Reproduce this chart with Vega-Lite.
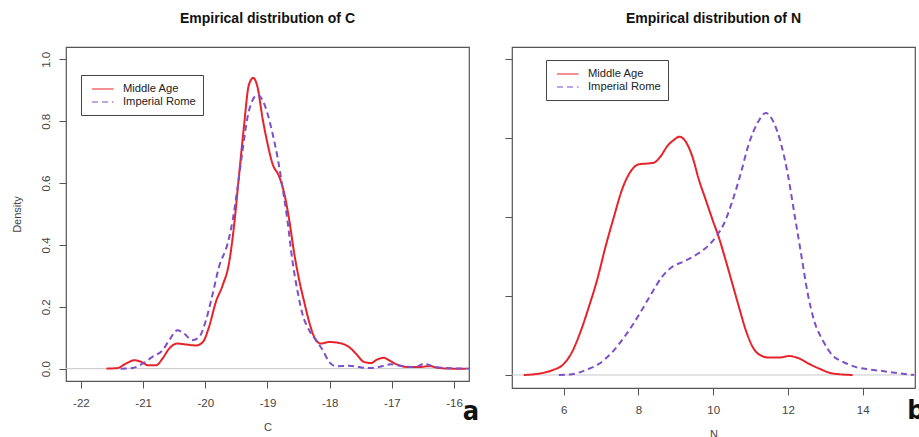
{
  "$schema": "https://vega.github.io/schema/vega-lite/v6.json",
  "autosize": {"type": "pad"},
  "padding": {"left": 10, "top": 11, "right": 0, "bottom": 0},
  "background": "white",
  "bounds": "flush",
  "spacing": 43,
  "config": {
    "font": "Liberation Sans",
    "view": {"stroke": "#555", "strokeWidth": 1.2},
    "axis": {"domain": false, "grid": false, "tickColor": "#555", "tickSize": 7, "tickWidth": 1, "labelColor": "#444", "labelFontSize": 11.5, "labelFont": "Liberation Sans", "titleColor": "#444", "titleFontSize": 11, "titleFontWeight": "normal", "titleFont": "Liberation Sans", "labelFlush": false, "labelOverlap": false},
    "title": {"fontSize": 14, "fontWeight": "bold", "color": "#111", "offset": 21, "anchor": "middle", "baseline": "alphabetic", "font": "Liberation Sans"},
    "legend": {"strokeColor": "#444", "fillColor": "white", "padding": 7, "labelFontSize": 11.2, "labelColor": "#222", "labelFont": "Liberation Sans", "symbolType": "M-0.5,0H3.1", "symbolSize": 144, "symbolStrokeWidth": 1.2, "labelOffset": 21, "rowPadding": 0}
  },
  "datasets": {
    "c": [
      {"x": -21.59, "y": 0, "s": "Middle Age"},
      {"x": -21.41, "y": 0.002, "s": "Middle Age"},
      {"x": -21.28, "y": 0.016, "s": "Middle Age"},
      {"x": -21.14, "y": 0.027, "s": "Middle Age"},
      {"x": -21.03, "y": 0.022, "s": "Middle Age"},
      {"x": -20.92, "y": 0.011, "s": "Middle Age"},
      {"x": -20.79, "y": 0.011, "s": "Middle Age"},
      {"x": -20.69, "y": 0.032, "s": "Middle Age"},
      {"x": -20.58, "y": 0.065, "s": "Middle Age"},
      {"x": -20.45, "y": 0.081, "s": "Middle Age"},
      {"x": -20.31, "y": 0.078, "s": "Middle Age"},
      {"x": -20.15, "y": 0.075, "s": "Middle Age"},
      {"x": -20.04, "y": 0.086, "s": "Middle Age"},
      {"x": -19.94, "y": 0.135, "s": "Middle Age"},
      {"x": -19.83, "y": 0.216, "s": "Middle Age"},
      {"x": -19.72, "y": 0.27, "s": "Middle Age"},
      {"x": -19.62, "y": 0.34, "s": "Middle Age"},
      {"x": -19.54, "y": 0.458, "s": "Middle Age"},
      {"x": -19.46, "y": 0.62, "s": "Middle Age"},
      {"x": -19.38, "y": 0.78, "s": "Middle Age"},
      {"x": -19.30, "y": 0.917, "s": "Middle Age"},
      {"x": -19.23, "y": 0.94, "s": "Middle Age"},
      {"x": -19.16, "y": 0.91, "s": "Middle Age"},
      {"x": -19.08, "y": 0.81, "s": "Middle Age"},
      {"x": -19.00, "y": 0.728, "s": "Middle Age"},
      {"x": -18.92, "y": 0.663, "s": "Middle Age"},
      {"x": -18.81, "y": 0.62, "s": "Middle Age"},
      {"x": -18.73, "y": 0.566, "s": "Middle Age"},
      {"x": -18.65, "y": 0.48, "s": "Middle Age"},
      {"x": -18.57, "y": 0.372, "s": "Middle Age"},
      {"x": -18.49, "y": 0.286, "s": "Middle Age"},
      {"x": -18.41, "y": 0.216, "s": "Middle Age"},
      {"x": -18.33, "y": 0.151, "s": "Middle Age"},
      {"x": -18.22, "y": 0.092, "s": "Middle Age"},
      {"x": -18.14, "y": 0.081, "s": "Middle Age"},
      {"x": -18.01, "y": 0.086, "s": "Middle Age"},
      {"x": -17.85, "y": 0.083, "s": "Middle Age"},
      {"x": -17.69, "y": 0.07, "s": "Middle Age"},
      {"x": -17.58, "y": 0.049, "s": "Middle Age"},
      {"x": -17.45, "y": 0.022, "s": "Middle Age"},
      {"x": -17.34, "y": 0.018, "s": "Middle Age"},
      {"x": -17.23, "y": 0.03, "s": "Middle Age"},
      {"x": -17.13, "y": 0.035, "s": "Middle Age"},
      {"x": -17.02, "y": 0.024, "s": "Middle Age"},
      {"x": -16.89, "y": 0.011, "s": "Middle Age"},
      {"x": -16.72, "y": 0.005, "s": "Middle Age"},
      {"x": -16.56, "y": 0.005, "s": "Middle Age"},
      {"x": -16.40, "y": 0.008, "s": "Middle Age"},
      {"x": -16.24, "y": 0.002, "s": "Middle Age"},
      {"x": -16.02, "y": 0, "s": "Middle Age"},
      {"x": -15.81, "y": 0, "s": "Middle Age"},
      {"x": -21.36, "y": 0, "s": "Imperial Rome"},
      {"x": -21.17, "y": 0.002, "s": "Imperial Rome"},
      {"x": -21.01, "y": 0.016, "s": "Imperial Rome"},
      {"x": -20.85, "y": 0.038, "s": "Imperial Rome"},
      {"x": -20.69, "y": 0.059, "s": "Imperial Rome"},
      {"x": -20.58, "y": 0.092, "s": "Imperial Rome"},
      {"x": -20.45, "y": 0.124, "s": "Imperial Rome"},
      {"x": -20.34, "y": 0.113, "s": "Imperial Rome"},
      {"x": -20.21, "y": 0.092, "s": "Imperial Rome"},
      {"x": -20.10, "y": 0.102, "s": "Imperial Rome"},
      {"x": -19.99, "y": 0.156, "s": "Imperial Rome"},
      {"x": -19.88, "y": 0.243, "s": "Imperial Rome"},
      {"x": -19.78, "y": 0.329, "s": "Imperial Rome"},
      {"x": -19.64, "y": 0.405, "s": "Imperial Rome"},
      {"x": -19.56, "y": 0.48, "s": "Imperial Rome"},
      {"x": -19.48, "y": 0.588, "s": "Imperial Rome"},
      {"x": -19.40, "y": 0.707, "s": "Imperial Rome"},
      {"x": -19.32, "y": 0.814, "s": "Imperial Rome"},
      {"x": -19.24, "y": 0.868, "s": "Imperial Rome"},
      {"x": -19.16, "y": 0.885, "s": "Imperial Rome"},
      {"x": -19.08, "y": 0.868, "s": "Imperial Rome"},
      {"x": -19.00, "y": 0.825, "s": "Imperial Rome"},
      {"x": -18.92, "y": 0.761, "s": "Imperial Rome"},
      {"x": -18.83, "y": 0.674, "s": "Imperial Rome"},
      {"x": -18.76, "y": 0.588, "s": "Imperial Rome"},
      {"x": -18.68, "y": 0.48, "s": "Imperial Rome"},
      {"x": -18.60, "y": 0.35, "s": "Imperial Rome"},
      {"x": -18.51, "y": 0.243, "s": "Imperial Rome"},
      {"x": -18.44, "y": 0.178, "s": "Imperial Rome"},
      {"x": -18.33, "y": 0.124, "s": "Imperial Rome"},
      {"x": -18.22, "y": 0.092, "s": "Imperial Rome"},
      {"x": -18.11, "y": 0.059, "s": "Imperial Rome"},
      {"x": -18.01, "y": 0.022, "s": "Imperial Rome"},
      {"x": -17.90, "y": 0.008, "s": "Imperial Rome"},
      {"x": -17.69, "y": 0.009, "s": "Imperial Rome"},
      {"x": -17.53, "y": 0.005, "s": "Imperial Rome"},
      {"x": -17.37, "y": 0.002, "s": "Imperial Rome"},
      {"x": -17.21, "y": 0.005, "s": "Imperial Rome"},
      {"x": -17.02, "y": 0.014, "s": "Imperial Rome"},
      {"x": -16.83, "y": 0.008, "s": "Imperial Rome"},
      {"x": -16.62, "y": 0.005, "s": "Imperial Rome"},
      {"x": -16.48, "y": 0.016, "s": "Imperial Rome"},
      {"x": -16.35, "y": 0.008, "s": "Imperial Rome"},
      {"x": -16.13, "y": 0.002, "s": "Imperial Rome"},
      {"x": -15.76, "y": 0, "s": "Imperial Rome"}
    ],
    "n": [
      {"x": 4.93, "y": 0, "s": "Middle Age"},
      {"x": 5.37, "y": 0.002, "s": "Middle Age"},
      {"x": 5.69, "y": 0.006, "s": "Middle Age"},
      {"x": 6.0, "y": 0.014, "s": "Middle Age"},
      {"x": 6.22, "y": 0.029, "s": "Middle Age"},
      {"x": 6.45, "y": 0.055, "s": "Middle Age"},
      {"x": 6.67, "y": 0.086, "s": "Middle Age"},
      {"x": 6.89, "y": 0.12, "s": "Middle Age"},
      {"x": 7.12, "y": 0.163, "s": "Middle Age"},
      {"x": 7.34, "y": 0.2, "s": "Middle Age"},
      {"x": 7.56, "y": 0.235, "s": "Middle Age"},
      {"x": 7.79, "y": 0.258, "s": "Middle Age"},
      {"x": 8.01, "y": 0.267, "s": "Middle Age"},
      {"x": 8.23, "y": 0.268, "s": "Middle Age"},
      {"x": 8.41, "y": 0.269, "s": "Middle Age"},
      {"x": 8.59, "y": 0.277, "s": "Middle Age"},
      {"x": 8.77, "y": 0.29, "s": "Middle Age"},
      {"x": 8.95, "y": 0.298, "s": "Middle Age"},
      {"x": 9.10, "y": 0.302, "s": "Middle Age"},
      {"x": 9.26, "y": 0.296, "s": "Middle Age"},
      {"x": 9.44, "y": 0.277, "s": "Middle Age"},
      {"x": 9.62, "y": 0.247, "s": "Middle Age"},
      {"x": 9.80, "y": 0.222, "s": "Middle Age"},
      {"x": 9.98, "y": 0.197, "s": "Middle Age"},
      {"x": 10.16, "y": 0.173, "s": "Middle Age"},
      {"x": 10.33, "y": 0.146, "s": "Middle Age"},
      {"x": 10.51, "y": 0.116, "s": "Middle Age"},
      {"x": 10.69, "y": 0.086, "s": "Middle Age"},
      {"x": 10.87, "y": 0.057, "s": "Middle Age"},
      {"x": 11.05, "y": 0.036, "s": "Middle Age"},
      {"x": 11.23, "y": 0.026, "s": "Middle Age"},
      {"x": 11.50, "y": 0.022, "s": "Middle Age"},
      {"x": 11.76, "y": 0.022, "s": "Middle Age"},
      {"x": 12.03, "y": 0.024, "s": "Middle Age"},
      {"x": 12.30, "y": 0.021, "s": "Middle Age"},
      {"x": 12.57, "y": 0.014, "s": "Middle Age"},
      {"x": 12.84, "y": 0.008, "s": "Middle Age"},
      {"x": 13.19, "y": 0.002, "s": "Middle Age"},
      {"x": 13.73, "y": 0, "s": "Middle Age"},
      {"x": 5.87, "y": 0, "s": "Imperial Rome"},
      {"x": 6.22, "y": 0.001, "s": "Imperial Rome"},
      {"x": 6.58, "y": 0.006, "s": "Imperial Rome"},
      {"x": 6.94, "y": 0.014, "s": "Imperial Rome"},
      {"x": 7.30, "y": 0.029, "s": "Imperial Rome"},
      {"x": 7.65, "y": 0.05, "s": "Imperial Rome"},
      {"x": 8.01, "y": 0.076, "s": "Imperial Rome"},
      {"x": 8.32, "y": 0.101, "s": "Imperial Rome"},
      {"x": 8.64, "y": 0.125, "s": "Imperial Rome"},
      {"x": 8.90, "y": 0.137, "s": "Imperial Rome"},
      {"x": 9.22, "y": 0.144, "s": "Imperial Rome"},
      {"x": 9.53, "y": 0.152, "s": "Imperial Rome"},
      {"x": 9.80, "y": 0.161, "s": "Imperial Rome"},
      {"x": 10.07, "y": 0.175, "s": "Imperial Rome"},
      {"x": 10.29, "y": 0.192, "s": "Imperial Rome"},
      {"x": 10.51, "y": 0.22, "s": "Imperial Rome"},
      {"x": 10.74, "y": 0.256, "s": "Imperial Rome"},
      {"x": 10.96, "y": 0.294, "s": "Imperial Rome"},
      {"x": 11.18, "y": 0.319, "s": "Imperial Rome"},
      {"x": 11.41, "y": 0.332, "s": "Imperial Rome"},
      {"x": 11.63, "y": 0.319, "s": "Imperial Rome"},
      {"x": 11.81, "y": 0.294, "s": "Imperial Rome"},
      {"x": 11.99, "y": 0.256, "s": "Imperial Rome"},
      {"x": 12.17, "y": 0.205, "s": "Imperial Rome"},
      {"x": 12.35, "y": 0.154, "s": "Imperial Rome"},
      {"x": 12.53, "y": 0.103, "s": "Imperial Rome"},
      {"x": 12.70, "y": 0.069, "s": "Imperial Rome"},
      {"x": 12.93, "y": 0.044, "s": "Imperial Rome"},
      {"x": 13.19, "y": 0.025, "s": "Imperial Rome"},
      {"x": 13.46, "y": 0.017, "s": "Imperial Rome"},
      {"x": 13.82, "y": 0.01, "s": "Imperial Rome"},
      {"x": 14.18, "y": 0.007, "s": "Imperial Rome"},
      {"x": 14.53, "y": 0.005, "s": "Imperial Rome"},
      {"x": 14.98, "y": 0.002, "s": "Imperial Rome"},
      {"x": 15.38, "y": 0, "s": "Imperial Rome"}
    ]
  },
  "hconcat": [
    {
      "width": 403,
      "height": 334,
      "title": {"text": "Empirical distribution of C"},
      "layer": [
        {
          "data": {"values": [{"z": 0}]},
          "mark": {"type": "rule", "color": "#c8c8c8", "strokeWidth": 1},
          "encoding": {"y": {"field": "z", "type": "quantitative"}}
        },
        {
          "data": {"name": "c"},
          "mark": {"type": "line", "strokeWidth": 2, "interpolate": "monotone", "strokeJoin": "round"},
          "encoding": {
            "x": {"field": "x", "type": "quantitative", "scale": {"domain": [-22.24, -15.76], "nice": false, "zero": false},
                  "axis": {"values": [-22, -21, -20, -19, -18, -17, -16], "labelExpr": "'' + datum.value", "labelPadding": 9, "title": "C", "titleY": 46, "titleBaseline": "middle"}},
            "y": {"field": "y", "type": "quantitative", "scale": {"domain": [-0.04, 1.04], "nice": false, "zero": false},
                  "axis": {"values": [0, 0.2, 0.4, 0.6, 0.8, 1.0], "format": ".1f", "labelAngle": -90, "labelAlign": "center", "labelBaseline": "alphabetic", "labelPadding": 10, "title": "Density", "titleAngle": -90, "titleX": -49, "titleY": 167, "titleAlign": "center", "titleBaseline": "middle"}},
            "color": {"field": "s", "type": "nominal", "scale": {"domain": ["Middle Age", "Imperial Rome"], "range": ["#e6222a", "#7b50c8"]},
                      "legend": {"title": null, "orient": "none", "legendX": 15, "legendY": 28}},
            "strokeDash": {"field": "s", "type": "nominal", "scale": {"domain": ["Middle Age", "Imperial Rome"], "range": [[1, 0], [6, 4]]},
                      "legend": {"title": null, "orient": "none", "legendX": 15, "legendY": 28}}
          }
        },
        {
          "data": {"values": [{"x": -15.727, "y": -0.166, "t": "a"}]},
          "mark": {"type": "text", "fontSize": 27, "fontWeight": "bold", "font": "Liberation Sans Narrow, DejaVu Sans Condensed, Liberation Sans, sans-serif", "align": "center", "baseline": "alphabetic", "color": "#111"},
          "encoding": {
            "x": {"field": "x", "type": "quantitative"},
            "y": {"field": "y", "type": "quantitative"},
            "text": {"field": "t"}
          }
        }
      ]
    },
    {
      "width": 403,
      "height": 341,
      "title": {"text": "Empirical distribution of N"},
      "layer": [
        {
          "data": {"values": [{"z": 0}]},
          "mark": {"type": "rule", "color": "#c8c8c8", "strokeWidth": 1},
          "encoding": {"y": {"field": "z", "type": "quantitative"}}
        },
        {
          "data": {"name": "n"},
          "mark": {"type": "line", "strokeWidth": 2, "interpolate": "monotone", "strokeJoin": "round"},
          "encoding": {
            "x": {"field": "x", "type": "quantitative", "scale": {"domain": [4.615, 15.4], "nice": false, "zero": false},
                  "axis": {"values": [6, 8, 10, 12, 14], "labelExpr": "'' + datum.value", "labelPadding": 9, "title": "N", "titleY": 46, "titleBaseline": "middle"}},
            "y": {"field": "y", "type": "quantitative", "scale": {"domain": [-0.0165, 0.4157], "nice": false, "zero": false},
                  "axis": {"values": [0, 0.1, 0.2, 0.3, 0.4], "labels": false, "title": null}},
            "color": {"field": "s", "type": "nominal", "scale": {"domain": ["Middle Age", "Imperial Rome"], "range": ["#e6222a", "#7b50c8"]},
                      "legend": {"title": null, "orient": "none", "legendX": 34, "legendY": 13}},
            "strokeDash": {"field": "s", "type": "nominal", "scale": {"domain": ["Middle Age", "Imperial Rome"], "range": [[1, 0], [6, 4]]},
                      "legend": {"title": null, "orient": "none", "legendX": 34, "legendY": 13}}
          }
        },
        {
          "data": {"values": [{"x": 15.19, "y": -0.0554, "t": "b"}]},
          "mark": {"type": "text", "fontSize": 27, "fontWeight": "bold", "font": "Liberation Sans Narrow, DejaVu Sans Condensed, Liberation Sans, sans-serif", "align": "left", "baseline": "alphabetic", "color": "#111"},
          "encoding": {
            "x": {"field": "x", "type": "quantitative"},
            "y": {"field": "y", "type": "quantitative"},
            "text": {"field": "t"}
          }
        }
      ]
    }
  ],
  "resolve": {
    "scale": {"x": "independent", "y": "independent", "color": "independent", "strokeDash": "independent"},
    "legend": {"color": "independent", "strokeDash": "independent"}
  }
}
